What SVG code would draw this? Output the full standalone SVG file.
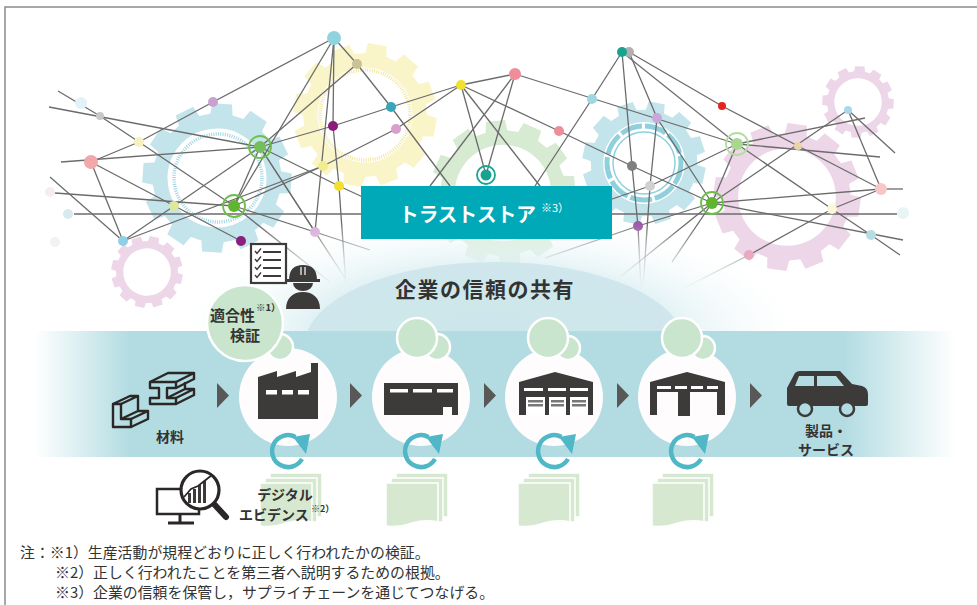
<svg xmlns="http://www.w3.org/2000/svg" xmlns:xlink="http://www.w3.org/1999/xlink" width="977" height="605" viewBox="0 0 977 605">
<style>
  .ln{fill:none;stroke:#6b6b6b;stroke-width:1.3}
  .lf{fill:none;stroke:url(#fadeDown);stroke-width:1.3}
  .jp{font-family:'Noto Sans CJK JP','Noto Sans CJK SC',sans-serif}
  .lbl{font-weight:bold;fill:#333;font-size:14px}
  .note{font-size:14.9px;fill:#333}
  .ic{fill:#3d3a3a}
  .ico{fill:none;stroke:#2b2727;stroke-width:2.4;stroke-linejoin:round}
  .bub{fill:#c9e5cd;stroke:#fff;stroke-width:2.5}
  .stage{fill:#fefcfd}
  .sheet{fill:#d6e9d0;stroke:#fff;stroke-width:1.5}
  .ring{fill:none;stroke-width:1.8}
</style>
<defs>
  <!-- 12-tooth gear, tip radius 100, with centre hole -->
  <path id="gear" fill-rule="evenodd" d="M84.7,-14.9 L99.1,-13.1 L99.1,13.1 L84.7,14.9 L80.8,29.4 L92.4,38.3 L79.3,60.9 L65.9,55.3 L55.3,65.9 L60.9,79.3 L38.3,92.4 L29.4,80.8 L14.9,84.7 L13.1,99.1 L-13.1,99.1 L-14.9,84.7 L-29.4,80.8 L-38.3,92.4 L-60.9,79.3 L-55.3,65.9 L-65.9,55.3 L-79.3,60.9 L-92.4,38.3 L-80.8,29.4 L-84.7,14.9 L-99.1,13.1 L-99.1,-13.1 L-84.7,-14.9 L-80.8,-29.4 L-92.4,-38.3 L-79.3,-60.9 L-65.9,-55.3 L-55.3,-65.9 L-60.9,-79.3 L-38.3,-92.4 L-29.4,-80.8 L-14.9,-84.7 L-13.1,-99.1 L13.1,-99.1 L14.9,-84.7 L29.4,-80.8 L38.3,-92.4 L60.9,-79.3 L55.3,-65.9 L65.9,-55.3 L79.3,-60.9 L92.4,-38.3 L80.8,-29.4 Z M66,0 A66,66 0 1 0 -66,0 A66,66 0 1 0 66,0 Z"/>
  <linearGradient id="fadeDown" gradientUnits="userSpaceOnUse" x1="0" y1="225" x2="0" y2="292">
    <stop offset="0" stop-color="#6b6b6b" stop-opacity="1"/>
    <stop offset="1" stop-color="#6b6b6b" stop-opacity="0"/>
  </linearGradient>
  <radialGradient id="glow" cx="0.5" cy="0.5" r="0.5">
    <stop offset="0" stop-color="#d3eaef" stop-opacity="1"/>
    <stop offset="0.55" stop-color="#def0f3" stop-opacity="0.9"/>
    <stop offset="1" stop-color="#ffffff" stop-opacity="0"/>
  </radialGradient>
  <linearGradient id="band" gradientUnits="userSpaceOnUse" x1="35" y1="0" x2="960" y2="0">
    <stop offset="0" stop-color="#b2dce2" stop-opacity="0"/>
    <stop offset="0.103" stop-color="#b2dce2" stop-opacity="1"/>
    <stop offset="0.874" stop-color="#b2dce2" stop-opacity="1"/>
    <stop offset="0.995" stop-color="#b2dce2" stop-opacity="0"/>
  </linearGradient>
  <path id="tri" d="M0,0 L12,12.5 L0,25 Z" fill="#5a5757"/>
  <g id="cyc">
    <path d="M14,8 A16,16 0 1 1 7.5,-14.1" fill="none" stroke="#4fb7c6" stroke-width="4.5"/>
    <path d="M5,-14 L22,-17 L18,3 Z" fill="#4fb7c6"/>
  </g>
  <g id="docs">
    <rect class="sheet" x="10" y="0" width="52" height="44"/>
    <rect class="sheet" x="5" y="5" width="52" height="44"/>
    <path class="sheet" d="M0,10 H52 V49 Q40,46 26,50 Q12,55 0,53 Z"/>
  </g>
</defs>

<rect width="977" height="605" fill="#fff"/>

<!-- background gears -->
<g id="gears">
  <use href="#gear" transform="translate(217,178) scale(0.75) rotate(4)" fill="#c3e4eb"/>
  <circle cx="218" cy="178" r="44" fill="none" stroke="#9ed5e1" stroke-width="3.5" stroke-dasharray="1 1.3"/>
  <use href="#gear" transform="translate(365,115) scale(0.72) rotate(10)" fill="#faf5c9"/>
  <circle cx="365" cy="115" r="45" fill="none" stroke="#f2e7a0" stroke-width="3.5" stroke-dasharray="1 1.3"/>
  <use href="#gear" transform="translate(503,193) scale(0.73) rotate(-6)" fill="#d7ebd3"/>
  <use href="#gear" transform="translate(644,163) scale(0.62) rotate(12)" fill="#c3e4eb"/>
  <circle cx="644" cy="163" r="37" fill="none" stroke="#8fd0dc" stroke-width="5" stroke-dasharray="22 3"/>
  <circle cx="644" cy="163" r="31" fill="none" stroke="#8fd0dc" stroke-width="1.5"/>
  <use href="#gear" transform="translate(787,197) scale(0.74) rotate(8)" fill="#ecd6e7"/>
  <use href="#gear" transform="translate(858,102) scale(0.36) rotate(3)" fill="#ecd6e7"/>
  <use href="#gear" transform="translate(147,272) scale(0.36) rotate(12)" fill="#ecd6e7"/>
</g>

<!-- network connectors -->
<g id="connectors">
  <path class="ln" d="M74,214 H897" stroke-width="2.2"/>
  <polyline class="ln" points="58,91 100,116 139,142 234,206"/>
  <polyline class="ln" points="49,107 260,147"/>
  <polyline class="ln" points="61,162 260,147"/>
  <polyline class="ln" points="91,162 139,142 213,102 334,38"/>
  <polyline class="ln" points="91,162 241,241"/>
  <polyline class="ln" points="91,162 123,241"/>
  <polyline class="ln" points="50,177 123,241"/>
  <polyline class="ln" points="55,193 234,206"/>
  <polyline class="ln" points="123,241 260,147"/>
  <polyline class="ln" points="123,241 323,166"/>
  <polyline class="ln" points="234,206 260,147"/>
  <polyline class="ln" points="234,206 323,166 396,129 461,85"/>
  <polyline class="ln" points="234,206 315,232"/>
  <polyline class="ln" points="260,147 333,126 391,107 461,85"/>
  <polyline class="ln" points="260,147 315,232"/>
  <polyline class="ln" points="334,38 234,206"/>
  <polyline class="ln" points="334,38 315,232"/>
  <polyline class="ln" points="334,38 333,126 339,186 341,215"/>
  <polyline class="lf" points="341,215 346,285"/>
  <polyline class="ln" points="334,38 357,64"/>
  <polyline class="ln" points="357,64 391,107 450,186"/>
  <polyline class="ln" points="357,64 260,147"/>
  <polyline class="ln" points="260,147 339,186 380,205"/>
  <polyline class="ln" points="461,85 486,175"/>
  <polyline class="ln" points="461,85 559,131 632,166 712,203"/>
  <polyline class="ln" points="461,85 540,186"/>
  <polyline class="ln" points="461,85 515,74"/>
  <polyline class="ln" points="515,74 486,175"/>
  <polyline class="ln" points="515,74 430,186"/>
  <polyline class="ln" points="515,74 737,144"/>
  <polyline class="ln" points="592,99 622,52"/>
  <polyline class="ln" points="592,99 535,186"/>
  <polyline class="ln" points="622,52 632,166 638,226"/>
  <polyline class="lf" points="638,226 641,290"/>
  <polyline class="ln" points="629,52 657,118 712,203"/>
  <polyline class="ln" points="629,52 722,106 798,146 881,189"/>
  <polyline class="ln" points="622,52 737,144"/>
  <polyline class="ln" points="545,222 650,186 737,144"/>
  <polyline class="ln" points="737,144 712,203"/>
  <polyline class="lf" points="712,203 672,262"/>
  <polyline class="ln" points="737,144 865,118"/>
  <polyline class="ln" points="737,144 880,157"/>
  <polyline class="ln" points="737,144 832,209 871,235 900,255"/>
  <polyline class="ln" points="712,203 881,189"/>
  <polyline class="ln" points="712,203 903,240"/>
  <polyline class="ln" points="712,203 848,110"/>
  <polyline class="ln" points="712,203 638,226"/>
  <polyline class="lf" points="638,226 545,258"/>
  <polyline class="lf" points="712,203 620,277"/>
  <polyline class="ln" points="848,110 895,153"/>
  <polyline class="ln" points="848,110 881,189"/>
  <polyline class="ln" points="881,189 903,189"/>
  <polyline class="ln" points="881,189 832,209 749,255"/>
  <polyline class="lf" points="749,255 680,290"/>
  <polyline class="ln" points="657,118 650,186"/>
  <polyline class="lf" points="650,186 643,288"/>
  <polyline class="lf" points="260,147 345,278"/>
  <polyline class="lf" points="234,206 330,282"/>
  <polyline class="lf" points="315,232 370,250"/>
</g>

<!-- network nodes -->
<g id="nodes">
  <circle cx="334" cy="38" r="7" fill="#8fd3df"/>
  <circle cx="81" cy="103" r="6" fill="#e3f2f7"/>
  <circle cx="100" cy="116" r="4" fill="#c8c8c8"/>
  <circle cx="213" cy="102" r="5" fill="#c9a3d0"/>
  <circle cx="139" cy="142" r="5" fill="#f6f1c0"/>
  <circle cx="91" cy="162" r="7" fill="#f2a7aa"/>
  <circle cx="260" cy="147" r="6" fill="#74bf5c"/>
  <circle class="ring" cx="260" cy="147" r="11" stroke="#6cc04a"/>
  <circle cx="234" cy="206" r="6" fill="#5fb52e"/>
  <circle class="ring" cx="234" cy="206" r="11" stroke="#6cc04a"/>
  <circle cx="174" cy="206" r="5" fill="#dde89a"/>
  <circle cx="123" cy="241" r="5" fill="#8fd0e6"/>
  <circle cx="241" cy="241" r="5" fill="#8b1f7f"/>
  <circle cx="50" cy="192" r="5" fill="#f6eeee"/>
  <circle cx="68" cy="214" r="5" fill="#d7eaee"/>
  <circle cx="55" cy="242" r="5" fill="#f2f2f2"/>
  <circle cx="315" cy="232" r="5" fill="#d8b6dd"/>
  <circle cx="357" cy="64" r="5" fill="#cbc196"/>
  <circle cx="391" cy="107" r="5" fill="#36a6b8"/>
  <circle cx="333" cy="126" r="5" fill="#8b1a7a"/>
  <circle cx="396" cy="129" r="5" fill="#d8a0cc"/>
  <circle cx="323" cy="166" r="5" fill="#f2ec90"/>
  <circle cx="339" cy="186" r="5" fill="#f0e030"/>
  <circle cx="461" cy="85" r="5" fill="#f0e030"/>
  <circle cx="515" cy="74" r="6" fill="#f08d9a"/>
  <circle cx="486" cy="175" r="5.5" fill="#17a38f"/>
  <circle class="ring" cx="486" cy="175" r="9" stroke="#17a38f" stroke-width="1.5"/>
  <circle cx="592" cy="99" r="5" fill="#9fd6e2"/>
  <circle cx="559" cy="131" r="5" fill="#f08d9a"/>
  <circle cx="629" cy="52" r="5" fill="#b0b0b0"/>
  <circle cx="622" cy="52" r="5" fill="#17a38f"/>
  <circle cx="632" cy="166" r="5" fill="#7f7f7f"/>
  <circle cx="650" cy="186" r="5" fill="#d0d0d0"/>
  <circle cx="638" cy="226" r="5" fill="#9b59a8"/>
  <circle cx="657" cy="118" r="5" fill="#c8a8d8"/>
  <circle cx="722" cy="106" r="4" fill="#e52421"/>
  <circle cx="737" cy="144" r="6" fill="#a8d890"/>
  <circle class="ring" cx="737" cy="144" r="11" stroke="#b2dca0"/>
  <circle cx="712" cy="203" r="6" fill="#5fb52e"/>
  <circle class="ring" cx="712" cy="203" r="11" stroke="#6cc04a"/>
  <circle cx="798" cy="146" r="4" fill="#ead3a8"/>
  <circle cx="848" cy="110" r="4" fill="#a9d8ea"/>
  <circle cx="881" cy="189" r="6" fill="#f7c7c8"/>
  <circle cx="832" cy="209" r="5" fill="#fdf6d8"/>
  <circle cx="871" cy="235" r="5" fill="#b8dce3"/>
  <circle cx="749" cy="255" r="5" fill="#eaa9c2"/>
  <circle cx="903" cy="213" r="6" fill="#e9f4f4"/>
</g>

<!-- soft glow and dome -->
<ellipse cx="490" cy="335" rx="330" ry="125" fill="url(#glow)"/>
<ellipse cx="495" cy="345" rx="190" ry="83" fill="#cbe5ea" opacity="0.85"/>

<!-- trust store -->
<g id="truststore">
  <rect x="361" y="186" width="251" height="53" fill="#00a9b7"/>
  <text class="jp" x="399" y="222" font-size="20" font-weight="bold" fill="#fff" textLength="137" lengthAdjust="spacingAndGlyphs">トラストストア</text>
  <text class="jp" x="541" y="212" font-size="11" fill="#fff">※3）</text>
</g>

<text class="jp" x="485" y="297" font-size="21" font-weight="bold" fill="#333" text-anchor="middle" letter-spacing="1.5">企業の信頼の共有</text>

<!-- supply-chain band -->
<rect x="35" y="331" width="925" height="126" fill="url(#band)"/>

<!-- worker with checklist -->
<g id="inspector">
  <rect x="251" y="244" width="35" height="39" fill="#fff" stroke="#3d3a3a" stroke-width="2.2"/>
  <g stroke="#3d3a3a" fill="none">
    <path d="M263,252 H281 M263,260 H281 M263,268 H281 M263,276 H281" stroke-width="2.2"/>
    <path d="M255,251 l2,2.5 l4,-5 M255,259 l2,2.5 l4,-5 M255,267 l2,2.5 l4,-5 M255,275 l2,2.5 l4,-5" stroke-width="1.4"/>
  </g>
  <path class="ic" d="M289,280 Q289,265 303,265 Q317,265 317,280 Z"/>
  <rect class="ic" x="286" y="279" width="34" height="3"/>
  <path d="M301,267 V275 M305,267 V275" stroke="#fff" stroke-width="1.2"/>
  <path class="ic" d="M293,283 A10,8 0 0 0 313,283 Z"/>
  <path class="ic" d="M286,309 C286,298 293,292 303,292 C313,292 320,298 320,309 Z"/>
</g>

<!-- stages -->
<g id="stage1">
  <circle class="stage" cx="288" cy="397" r="49"/>
  <path class="ic" d="M258,419 V377 L277,371 V377 L296,371 V377 L311,372 V363 H318 V419 Z"/>
  <rect x="266" y="390" width="11" height="4.5" fill="#fff"/>
  <rect x="282" y="390" width="11" height="4.5" fill="#fff"/>
  <rect x="298" y="390" width="11" height="4.5" fill="#fff"/>
  <circle class="bub" cx="280" cy="347" r="13"/>
  <circle class="bub" cx="245" cy="323" r="38"/>
  <text class="jp" x="210" y="321" font-size="15" font-weight="bold" fill="#333">適合性</text>
  <text class="jp" x="256" y="311" font-size="9.5" font-weight="bold" fill="#333">※1）</text>
  <text class="jp" x="230" y="341" font-size="15" font-weight="bold" fill="#333">検証</text>
</g>
<g id="stage2">
  <circle class="stage" cx="421" cy="397" r="49"/>
  <path class="ic" d="M384,383 H458 V415 H452 V407 H443 V415 H384 Z"/>
  <rect x="390" y="389" width="18" height="3.5" fill="#fff"/>
  <rect x="413" y="389" width="19" height="3.5" fill="#fff"/>
  <rect x="437" y="389" width="16" height="3.5" fill="#fff"/>
  <circle class="bub" cx="437" cy="347" r="13"/>
  <circle class="bub" cx="417" cy="338" r="20"/>
</g>
<g id="stage3">
  <circle class="stage" cx="554" cy="397" r="49"/>
  <path class="ic" d="M519,415 V382 L555,372 L593,382 V415 Z"/>
  <rect x="524" y="388" width="19" height="3" fill="#fff"/>
  <rect x="548" y="388" width="18" height="3" fill="#fff"/>
  <rect x="570" y="388" width="18" height="3" fill="#fff"/>
  <g fill="#fff">
    <rect x="526" y="397" width="19" height="18"/>
    <rect x="549" y="397" width="17" height="18"/>
    <rect x="570" y="397" width="18" height="18"/>
  </g>
  <g fill="#777">
    <rect x="528" y="400" width="15" height="2.5"/>
    <rect x="528" y="404" width="15" height="2.5"/>
    <rect x="551" y="400" width="13" height="2.5"/>
    <rect x="551" y="404" width="13" height="2.5"/>
    <rect x="572" y="400" width="14" height="2.5"/>
    <rect x="572" y="404" width="14" height="2.5"/>
  </g>
  <circle class="bub" cx="568" cy="348" r="12"/>
  <circle class="bub" cx="548" cy="338" r="20"/>
</g>
<g id="stage4">
  <circle class="stage" cx="687" cy="397" r="49"/>
  <path class="ic" d="M650,415 V382 L687,372 L725,382 V415 H717 V392 H690 V416 H678 V392 H657 V415 Z"/>
  <rect x="657" y="386" width="14" height="3" fill="#fff"/>
  <rect x="675" y="386" width="12" height="3" fill="#fff"/>
  <rect x="691" y="386" width="12" height="3" fill="#fff"/>
  <rect x="707" y="386" width="11" height="3" fill="#fff"/>
  <circle class="bub" cx="703" cy="348" r="12"/>
  <circle class="bub" cx="682" cy="338" r="20"/>
</g>

<!-- flow arrows between stages -->
<g id="flow">
  <use href="#tri" x="217" y="383"/>
  <use href="#tri" x="350" y="383"/>
  <use href="#tri" x="484" y="383"/>
  <use href="#tri" x="617" y="383"/>
  <use href="#tri" x="750" y="383"/>
</g>

<!-- cycle marks -->
<g id="cycles">
  <use href="#cyc" x="288" y="451"/>
  <use href="#cyc" x="421" y="451"/>
  <use href="#cyc" x="554" y="451"/>
  <use href="#cyc" x="687" y="451"/>
</g>

<!-- digital evidence sheets -->
<g id="evidence">
  <use href="#docs" x="260" y="473"/>
  <use href="#docs" x="386" y="473"/>
  <use href="#docs" x="518" y="473"/>
  <use href="#docs" x="652" y="473"/>
  <text class="jp lbl" x="285" y="500" text-anchor="middle">デジタル</text>
  <text class="jp lbl" x="239" y="520">エビデンス</text>
  <text class="jp" x="311" y="512" font-size="9" font-weight="bold" fill="#333">※2）</text>
</g>

<!-- materials -->
<g id="materials">
  <path class="ico" d="M150,382 H176 V388 H167 V398 H176 V404 H150 V398 H159 V388 H150 Z"/>
  <path class="ico" d="M150,382 L168,373 H194 L176,382 M194,373 V379 L176,388 M167,398 L185,389 H194 L176,398 M194,389 V395 L176,404 M185,389 V382"/>
  <path class="ico" d="M113,404 H121 V419 H131 V427 H113 Z"/>
  <path class="ico" d="M113,404 L130,396 H138 L121,404 M138,396 V411 L121,419 M138,411 H148 L131,419 M148,411 V419 L131,427"/>
  <text class="jp lbl" x="170" y="442" text-anchor="middle">材料</text>
</g>

<!-- product / service -->
<g id="product">
  <path class="ic" d="M787,404 V388 L795,373 Q797,371 800,371 H840 L852,384 L862,386 Q868,388 868,394 V404 Q868,406 866,406 H789 Q787,406 787,404 Z"/>
  <path d="M795,386 L799,376 H814 V386 Z M817,376 H836 L844,386 H817 Z" fill="#b2dce2"/>
  <circle cx="805" cy="409" r="7" fill="#b2dce2" stroke="#3d3a3a" stroke-width="2.5"/>
  <circle cx="847" cy="409" r="7" fill="#b2dce2" stroke="#3d3a3a" stroke-width="2.5"/>
  <text class="jp lbl" x="826" y="436" text-anchor="middle">製品・</text>
  <text class="jp lbl" x="826" y="455" text-anchor="middle">サービス</text>
</g>

<!-- analysis monitor -->
<g id="analysis">
  <rect x="157" y="489" width="42" height="25" fill="#fff" stroke="#2b2727" stroke-width="2.5"/>
  <path d="M180,514 V522 M168,523 H194" stroke="#2b2727" stroke-width="3" fill="none"/>
  <path d="M214,504 L226,517" stroke="#2b2727" stroke-width="6" stroke-linecap="round"/>
  <circle cx="200" cy="490" r="19" fill="#fff" stroke="#2b2727" stroke-width="3.2"/>
  <g class="ic">
    <rect x="188" y="493" width="3" height="10"/>
    <rect x="193" y="489" width="3" height="14"/>
    <rect x="198" y="485" width="3" height="18"/>
    <rect x="203" y="481" width="3" height="22"/>
  </g>
  <polyline points="184,497 191,489 198,486 212,475" fill="none" stroke="#2b2727" stroke-width="1.8"/>
</g>

<!-- frame -->
<path d="M5,605 V7 H977" fill="none" stroke="#8a8a8a" stroke-width="1.5"/>

<!-- notes -->
<g id="notes" class="jp note">
  <text x="20" y="558">注：※1）生産活動が規程どおりに正しく行われたかの検証。</text>
  <text x="55" y="578">※2）正しく行われたことを第三者へ説明するための根拠。</text>
  <text x="55" y="598">※3）企業の信頼を保管し，サプライチェーンを通じてつなげる。</text>
</g>
</svg>
